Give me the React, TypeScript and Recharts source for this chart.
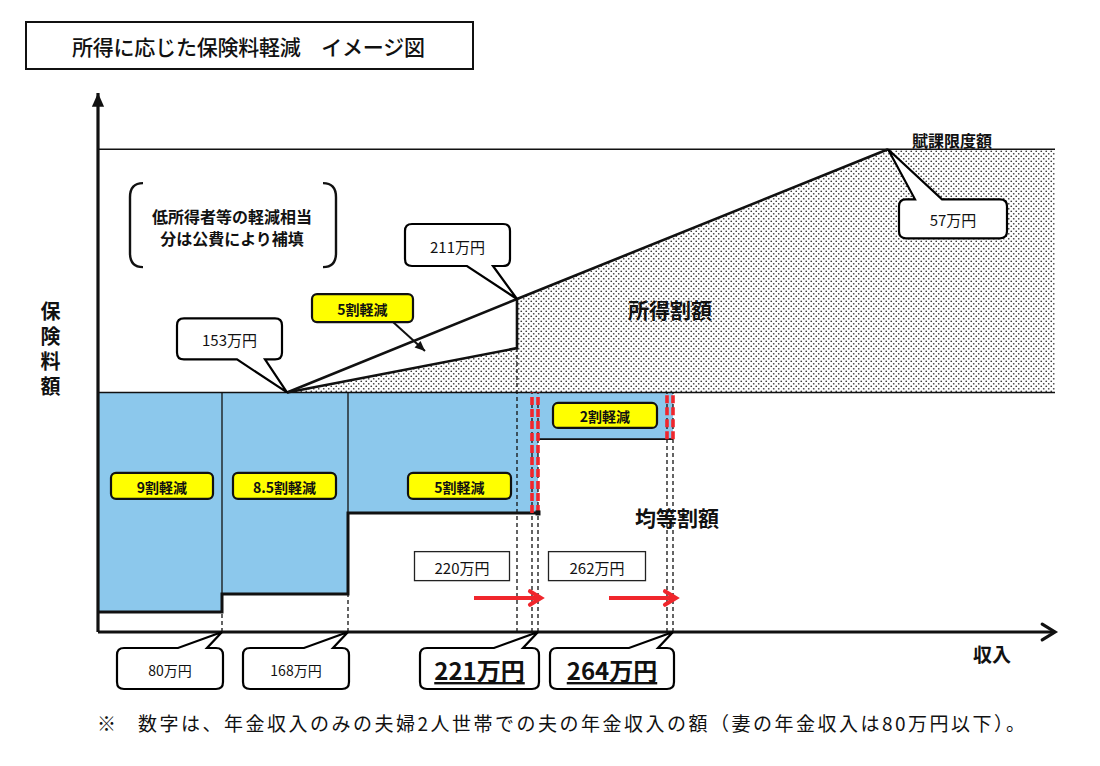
import React from 'react';
import {
  ComposedChart, XAxis, YAxis, Line, Area,
  ReferenceArea, ReferenceLine, ReferenceDot,
} from 'recharts';

const FONT = "'Noto Sans CJK JP', 'Noto Sans', sans-serif";

// ---------- data (schematic diagram: x = income position, y = premium level) ----------
const bandLabels = ['9割軽減', '8.5割軽減', '5割軽減', '2割軽減'];
const bandFrom = [0, 124, 250, 440];
const bandTo = [124, 250, 440, 575];
const bandFloor = [0.83, 1.59, 4.97, 8.05];
const flatFull = 10;
const capLevel = 20.15;

const newLimitLabels = ['80万円', '168万円', '221万円', '264万円'];
const newLimitPos = [124, 250, 440, 575];
const oldLimitLabels = ['220万円', '262万円'];
const oldLimitPos = [434, 569];

const kinkLabels = ['153万円', '211万円', '57万円'];
const kinkPos = [189, 419, 790];
const levyFull = [10, 13.9, 20.15];
const levyHalf = [10, 11.85];

const xMax = 957;
const yMax = 22.5;

// ---------- derived series ----------
const fullLine = kinkPos.map((x, i) => ({ x, y: levyFull[i] }));
const halfLine = [
  { x: kinkPos[0], y: levyHalf[0] },
  { x: kinkPos[1], y: levyHalf[1] },
  { x: kinkPos[1], y: levyFull[1] },
];
const dottedArea = [
  { x: kinkPos[0], y: levyHalf[0] },
  { x: kinkPos[1], y: levyHalf[1] },
  { x: kinkPos[1], y: levyFull[1] },
  { x: kinkPos[2], y: levyFull[2] },
  { x: xMax, y: capLevel },
];
const stepLine: { x: number; y: number }[] = [];
for (let i = 0; i < 3; i++) {
  stepLine.push({ x: bandFrom[i], y: bandFloor[i] });
  stepLine.push({ x: bandTo[i], y: bandFloor[i] });
}

// ---------- shapes ----------
const arrowShape = (color: string, width: number, head: number, filled: boolean) => (p: any) => {
  const { x1, y1, x2, y2 } = p;
  const ang = Math.atan2(y2 - y1, x2 - x1);
  const spread = filled ? 0.42 : 0.55;
  const hx1 = x2 + head * Math.cos(ang + Math.PI - spread);
  const hy1 = y2 + head * Math.sin(ang + Math.PI - spread);
  const hx2 = x2 + head * Math.cos(ang + Math.PI + spread);
  const hy2 = y2 + head * Math.sin(ang + Math.PI + spread);
  return (
    <g>
      <line x1={x1} y1={y1} x2={x2 - (filled ? 0 : Math.cos(ang) * width * 0.6)} y2={y2 - (filled ? 0 : Math.sin(ang) * width * 0.6)} stroke={color} strokeWidth={width} />
      {filled ? (
        <polygon points={`${x2},${y2} ${hx1},${hy1} ${hx2},${hy2}`} fill={color} />
      ) : (
        <polyline points={`${hx1},${hy1} ${x2},${y2} ${hx2},${hy2}`} fill="none" stroke={color} strokeWidth={width} strokeLinecap="round" />
      )}
    </g>
  );
};

const lineShape = (color: string, width: number, dash?: string) => (p: any) => (
  <line x1={p.x1} y1={p.y1} x2={p.x2} y2={p.y2} stroke={color} strokeWidth={width} strokeDasharray={dash} />
);

function calloutPath(l: number, t: number, w: number, h: number, r: number, side: 'top' | 'bottom',
  b1: number, b2: number, tx: number, ty: number) {
  const R = l + w;
  const B = t + h;
  if (side === 'bottom') {
    return `M${l + r},${t} H${R - r} Q${R},${t} ${R},${t + r} V${B - r} Q${R},${B} ${R - r},${B} H${b2} L${tx},${ty} L${b1},${B} H${l + r} Q${l},${B} ${l},${B - r} V${t + r} Q${l},${t} ${l + r},${t} Z`;
  }
  return `M${l + r},${t} H${b1} L${tx},${ty} L${b2},${t} H${R - r} Q${R},${t} ${R},${t + r} V${B - r} Q${R},${B} ${R - r},${B} H${l + r} Q${l},${B} ${l},${B - r} V${t + r} Q${l},${t} ${l + r},${t} Z`;
}

type CalloutOpts = {
  text: string; dx: number; dy: number; w: number; h: number;
  side: 'top' | 'bottom'; b1: number; b2: number;
  size?: number; bold?: boolean; underline?: boolean;
};
const callout = (o: CalloutOpts) => (p: any) => {
  const { cx, cy } = p;
  const l = cx + o.dx;
  const t = cy + o.dy;
  return (
    <g>
      <path d={calloutPath(l, t, o.w, o.h, 7, o.side, cx + o.b1, cx + o.b2, cx, cy)}
        fill="#fff" stroke="#000" strokeWidth={2.2} strokeLinejoin="miter" />
      <text x={l + o.w / 2} y={t + o.h / 2 + 1} textAnchor="middle" dominantBaseline="central"
        fontFamily={FONT} fontSize={o.size ?? 14} fontWeight={o.bold ? 700 : 400}
        textDecoration={o.underline ? 'underline' : undefined} fill="#111">
        {o.text}
      </text>
    </g>
  );
};

const yellowTag = (text: string, w: number, h: number) => (p: any) => {
  const { cx, cy } = p;
  return (
    <g>
      <rect x={cx - w / 2} y={cy - h / 2} width={w} height={h} rx={5} ry={5}
        fill="#ffff00" stroke="#111" strokeWidth={2.2} />
      <text x={cx} y={cy + 1} textAnchor="middle" dominantBaseline="central"
        fontFamily={FONT} fontSize={14} fontWeight={700} fill="#111">{text}</text>
    </g>
  );
};

const plainBox = (text: string, w: number, h: number) => (p: any) => {
  const { cx, cy } = p;
  return (
    <g>
      <rect x={cx - w / 2} y={cy - h / 2} width={w} height={h} fill="#fff" stroke="#222" strokeWidth={1.3} />
      <text x={cx} y={cy + 1} textAnchor="middle" dominantBaseline="central"
        fontFamily={FONT} fontSize={15} fill="#111">{text}</text>
    </g>
  );
};

const textShape = (text: string, size: number, bold = true) => (p: any) => (
  <text x={p.cx} y={p.cy} textAnchor="middle" dominantBaseline="central"
    fontFamily={FONT} fontSize={size} fontWeight={bold ? 700 : 400} fill="#111">{text}</text>
);

const bracketNote = (lines: string[]) => (p: any) => {
  const { cx, cy } = p;
  const top = cy - 44;
  const bot = cy + 40;
  return (
    <g>
      <path d={`M${cx - 89},${top} Q${cx - 102},${top} ${cx - 102},${top + 14} V${bot - 14} Q${cx - 102},${bot} ${cx - 89},${bot}`}
        fill="none" stroke="#111" strokeWidth={2.4} />
      <path d={`M${cx + 91},${top} Q${cx + 104},${top} ${cx + 104},${top + 14} V${bot - 14} Q${cx + 104},${bot} ${cx + 91},${bot}`}
        fill="none" stroke="#111" strokeWidth={2.4} />
      {lines.map((s, i) => (
        <text key={i} x={cx} y={cy - 11 + i * 22} textAnchor="middle" dominantBaseline="central"
          fontFamily={FONT} fontSize={16} fontWeight={700} fill="#111">{s}</text>
      ))}
    </g>
  );
};

const BLUE = '#8cc8ec';
const RED = '#f0262c';

export default function App() {
  const tagW = [102, 103, 103, 104];
  const tagX = [64, 186.5, 361.5, 507];
  const tagY = [6.1, 6.1, 6.1, 9.04];
  const bottomW = [106, 106, 119, 124];
  const arrowY = 1.42;

  return (
    <div style={{ position: 'absolute', left: 0, top: 0, width: 1100, height: 766, background: '#fff' }}>
      <svg width={1100} height={766} style={{ position: 'absolute', left: 0, top: 0 }}>
        <defs>
          <pattern id="dots" width={5} height={5} patternUnits="userSpaceOnUse">
            <rect width={5} height={5} fill="#fff" />
            <circle cx={1.25} cy={1.25} r={0.85} fill="#3a3a3a" />
            <circle cx={3.75} cy={3.75} r={0.85} fill="#3a3a3a" />
          </pattern>
        </defs>
        {/* title */}
        <rect x={26} y={22} width={447} height={47} fill="#fff" stroke="#111" strokeWidth={2} />
        <text x={72} y={46} dominantBaseline="central" fontFamily={FONT} fontSize={21} fontWeight={500}
          textLength={353} lengthAdjust="spacing" fill="#111">所得に応じた保険料軽減　イメージ図</text>
        {/* x label */}
        <text x={992} y={653} textAnchor="middle" dominantBaseline="central"
          fontFamily={FONT} fontSize={19} fontWeight={700} fill="#111">収入</text>
        {/* footnote */}
        <text x={97} y={722} dominantBaseline="central" fontFamily={FONT} fontSize={19} fill="#111">※</text>
        <text x={138} y={722} dominantBaseline="central" fontFamily={FONT} fontSize={19}
          textLength={887} lengthAdjust="spacing" fill="#111">数字は、年金収入のみの夫婦2人世帯での夫の年金収入の額（妻の年金収入は80万円以下）。</text>
      </svg>
      {/* y label (vertical) */}
      <div style={{
        position: 'absolute', left: 40, top: 301, width: 20, lineHeight: '20px',
        writingMode: 'vertical-rl', fontFamily: FONT, fontSize: 20, fontWeight: 700,
        letterSpacing: '5px', color: '#111',
      }}>保険料額</div>
      <div style={{ position: 'absolute', left: 0, top: 0 }}>
        <ComposedChart width={1100} height={766} margin={{ top: 93, right: 45, bottom: 134, left: 98 }}>
          <XAxis type="number" dataKey="x" domain={[0, xMax]} allowDataOverflow hide />
          <YAxis type="number" domain={[0, yMax]} allowDataOverflow hide />

          {/* 所得割 area (dotted) */}
          <Area data={dottedArea} dataKey="y" type="linear" baseValue={flatFull}
            fill="url(#dots)" fillOpacity={1} stroke="none" isAnimationActive={false} />

          {/* 均等割 reduced bands */}
          {bandLabels.map((b, i) => (
            <ReferenceArea key={b} x1={bandFrom[i]} x2={bandTo[i]} y1={bandFloor[i]} y2={flatFull}
              fill={BLUE} fillOpacity={1} stroke="none" ifOverflow="visible" />
          ))}

          {/* black dashed guides */}
          {[[newLimitPos[0], bandFloor[0]], [newLimitPos[1], bandFloor[1]], [kinkPos[1], levyHalf[1]],
            [oldLimitPos[0], flatFull], [newLimitPos[2], flatFull], [oldLimitPos[1], flatFull], [newLimitPos[3], flatFull]].map(([x, y], i) => (
            <ReferenceLine key={'d' + i} segment={[{ x, y: 0 }, { x, y }]} ifOverflow="visible"
              shape={lineShape('#111', 1.3, '4 3')} />
          ))}

          {/* thin solid dividers */}
          <ReferenceLine segment={[{ x: bandTo[0], y: bandFloor[0] }, { x: bandTo[0], y: flatFull }]} ifOverflow="visible" shape={lineShape('#111', 1.3)} />
          <ReferenceLine segment={[{ x: bandTo[1], y: bandFloor[1] }, { x: bandTo[1], y: flatFull }]} ifOverflow="visible" shape={lineShape('#111', 1.3)} />
          <ReferenceLine segment={[{ x: bandFrom[3], y: bandFloor[3] }, { x: bandTo[3], y: bandFloor[3] }]} ifOverflow="visible" shape={lineShape('#111', 1.6)} />

          {/* horizontal levels */}
          <ReferenceLine y={flatFull} ifOverflow="visible" shape={lineShape('#111', 1.6)} />
          <ReferenceLine y={capLevel} ifOverflow="visible" shape={lineShape('#111', 1.6)} />

          {/* lines */}
          <Line data={stepLine} dataKey="y" type="linear" stroke="#111" strokeWidth={3} dot={false} isAnimationActive={false} />
          <Line data={fullLine} dataKey="y" type="linear" stroke="#111" strokeWidth={2.6} dot={false} isAnimationActive={false} />
          <Line data={halfLine} dataKey="y" type="linear" stroke="#111" strokeWidth={2.6} dot={false} isAnimationActive={false} />

          {/* red dashed limit changes */}
          {[[oldLimitPos[0], bandFloor[2]], [newLimitPos[2], bandFloor[2]], [oldLimitPos[1], bandFloor[3]], [newLimitPos[3], bandFloor[3]]].map(([x, y], i) => (
            <ReferenceLine key={'r' + i} segment={[{ x, y }, { x, y: flatFull }]} ifOverflow="visible"
              shape={lineShape(RED, 3.6, '8 4')} />
          ))}
          <ReferenceDot x={newLimitPos[2]} y={bandFloor[2]} ifOverflow="visible"
            shape={(p: any) => <rect x={p.cx - 2.5} y={p.cy - 2.5} width={5} height={5} fill="#111" />} />

          {/* red arrows */}
          {oldLimitPos.map((x, i) => (
            <ReferenceLine key={'ra' + i} segment={[{ x: x - 58, y: arrowY }, { x: newLimitPos[i + 2] + 3, y: arrowY }]}
              ifOverflow="visible" shape={arrowShape(RED, 4, 13, false)} />
          ))}

          {/* axes with arrows */}
          <ReferenceLine segment={[{ x: 0, y: 0 }, { x: xMax, y: 0 }]} ifOverflow="visible" shape={arrowShape('#111', 3.2, 15, false)} />
          <ReferenceLine segment={[{ x: 0, y: 0 }, { x: 0, y: yMax }]} ifOverflow="visible" shape={arrowShape('#111', 3.2, 15, true)} />

          {/* 5割 arrow in upper part */}
          <ReferenceLine segment={[{ x: 295, y: 12.94 }, { x: 327, y: 11.73 }]} ifOverflow="visible" shape={arrowShape('#111', 2, 11, true)} />

          {/* yellow tags */}
          {bandLabels.map((b, i) => (
            <ReferenceDot key={'t' + b} x={tagX[i]} y={tagY[i]} ifOverflow="visible" shape={yellowTag(b, tagW[i], i === 3 ? 25 : 26)} />
          ))}
          <ReferenceDot x={264.5} y={13.52} ifOverflow="visible" shape={yellowTag('5割軽減', 101, 28)} />

          {/* old limit boxes */}
          {oldLimitLabels.map((s, i) => (
            <ReferenceDot key={s} x={oldLimitPos[i] - 70} y={2.75} ifOverflow="visible" shape={plainBox(s, i === 0 ? 95 : 97, 29)} />
          ))}

          {/* bottom callouts */}
          {newLimitLabels.map((s, i) => (
            <ReferenceDot key={s} x={newLimitPos[i]} y={0} ifOverflow="visible"
              shape={callout({
                text: s, dx: -bottomW[i] + 1, dy: 16, w: bottomW[i], h: 41, side: 'top',
                b1: -44, b2: -15, size: i >= 2 ? 24 : 14, bold: i >= 2, underline: i >= 2,
              })} />
          ))}

          {/* kink callouts */}
          <ReferenceDot x={kinkPos[0]} y={levyFull[0]} ifOverflow="visible"
            shape={callout({ text: kinkLabels[0], dx: -110, dy: -74, w: 105, h: 41, side: 'bottom', b1: -50, b2: -22, size: 15 })} />
          <ReferenceDot x={kinkPos[1]} y={levyFull[1]} ifOverflow="visible"
            shape={callout({ text: kinkLabels[1], dx: -112, dy: -75, w: 105, h: 42, side: 'bottom', b1: -50, b2: -24, size: 15 })} />
          <ReferenceDot x={kinkPos[2]} y={levyFull[2]} ifOverflow="visible"
            shape={callout({ text: kinkLabels[2], dx: 11, dy: 50, w: 108, h: 39, side: 'top', b1: 27, b2: 54, size: 15 })} />

          {/* texts */}
          <ReferenceDot x={854} y={20.55} ifOverflow="visible" shape={textShape('賦課限度額', 16)} />
          <ReferenceDot x={572} y={13.5} ifOverflow="visible" shape={textShape('所得割額', 21)} />
          <ReferenceDot x={579} y={4.8} ifOverflow="visible" shape={textShape('均等割額', 21)} />
          <ReferenceDot x={134} y={16.9} ifOverflow="visible"
            shape={bracketNote(['低所得者等の軽減相当', '分は公費により補填'])} />
        </ComposedChart>
      </div>
    </div>
  );
}
